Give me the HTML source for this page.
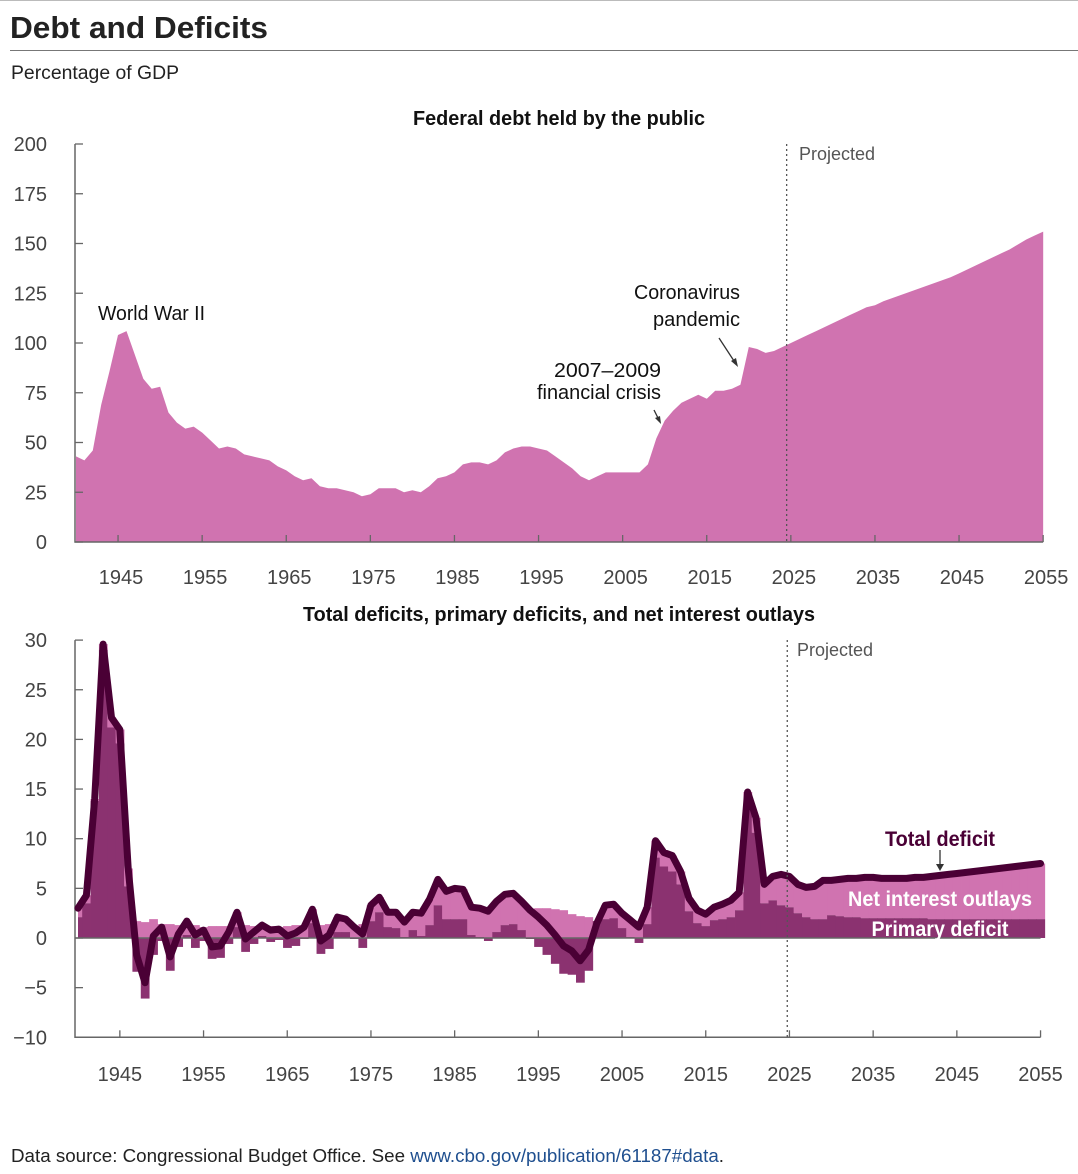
<!DOCTYPE html>
<html><head><meta charset="utf-8">
<style>
html,body{margin:0;padding:0;background:#fff;}
svg{display:block;font-family:"Liberation Sans",sans-serif;}
</style></head>
<body>
<svg id="chart" width="1078" height="1174" viewBox="0 0 1078 1174">
<line x1="0" y1="0.5" x2="1078" y2="0.5" stroke="#bbb"/>
<text x="10" y="38" font-size="31" font-weight="bold" fill="#222" textLength="258" lengthAdjust="spacingAndGlyphs">Debt and Deficits</text>
<line x1="10" y1="50.5" x2="1078" y2="50.5" stroke="#777"/>
<text x="11" y="79" font-size="19" fill="#222" textLength="168" lengthAdjust="spacingAndGlyphs">Percentage of GDP</text>

<text x="559" y="125" font-size="20" font-weight="bold" fill="#111" text-anchor="middle" textLength="292" lengthAdjust="spacingAndGlyphs">Federal debt held by the public</text>
<g id="topG"></g>
<text x="559" y="621" font-size="20" font-weight="bold" fill="#111" text-anchor="middle" textLength="512" lengthAdjust="spacingAndGlyphs">Total deficits, primary deficits, and net interest outlays</text>
<g id="botG"></g>

<text x="98" y="320" font-size="20" fill="#111" textLength="107" lengthAdjust="spacingAndGlyphs">World War II</text>
<text x="740" y="299" font-size="20" fill="#111" text-anchor="end" textLength="106" lengthAdjust="spacingAndGlyphs">Coronavirus</text>
<text x="740" y="326" font-size="20" fill="#111" text-anchor="end" textLength="87" lengthAdjust="spacingAndGlyphs">pandemic</text>
<line x1="719" y1="338" x2="736" y2="364" stroke="#333" stroke-width="1.3"/>
<path d="M738,367 L731,361 L736,358 Z" fill="#333"/>
<text x="661" y="377" font-size="20" fill="#111" text-anchor="end" textLength="107" lengthAdjust="spacingAndGlyphs">2007–2009</text>
<text x="661" y="399" font-size="20" fill="#111" text-anchor="end" textLength="124" lengthAdjust="spacingAndGlyphs">financial crisis</text>
<line x1="654" y1="410" x2="659" y2="420" stroke="#333" stroke-width="1.3"/>
<path d="M661,424 L655,418 L660,416 Z" fill="#333"/>

<text x="940" y="846" font-size="21" font-weight="bold" fill="#4a0035" text-anchor="middle" textLength="110" lengthAdjust="spacingAndGlyphs">Total deficit</text>
<line x1="940" y1="850" x2="940" y2="866" stroke="#333" stroke-width="1.3"/>
<path d="M940,871 L936,864 L944,864 Z" fill="#333"/>
<text x="940" y="906" font-size="21" font-weight="bold" fill="#fff" text-anchor="middle" textLength="184" lengthAdjust="spacingAndGlyphs">Net interest outlays</text>
<text x="940" y="936" font-size="21" font-weight="bold" fill="#fff" text-anchor="middle" textLength="137" lengthAdjust="spacingAndGlyphs">Primary deficit</text>

<text x="11" y="1162" font-size="18" fill="#222" textLength="713" lengthAdjust="spacingAndGlyphs">Data source: Congressional Budget Office. See <tspan fill="#1f4f8f">www.cbo.gov/publication/61187#data</tspan>.</text>
</svg>
<script>
var years=[];for(var yy=1940;yy<=2055;yy++)years.push(yy);
var debt=[43,41,46,69,86,104,106,94,82,77,78,65,60,57,58,55,51,47,48,47,44,43,42,41,38,36,33,31,32,28,27,27,26,25,23,24,27,27,27,25,26,25,28,32,33,35,39,40,40,39,41,45,47,48,48,47,46,43,40,37,33,31,33,35,35,35,35,35,39,52,61,66,70,72,74,72,76,76,77,79,98,97,95,96,98,100,102,104,106,108,110,112,114,116,118,119,121,122.5,124,125.5,127,128.5,130,131.5,133,135,137,139,141,143,145,147,149.5,152,154,156];
var totalDeficit=[3.0,4.3,14,29.6,22.2,21,7,-1.7,-4.5,0.2,1.1,-1.9,0.4,1.7,0.3,0.8,-0.9,-0.8,0.6,2.6,-0.1,0.6,1.3,0.8,0.9,0.2,0.5,1.1,2.9,-0.3,0.3,2.1,1.9,1.1,0.4,3.3,4.1,2.6,2.6,1.6,2.6,2.5,3.9,5.9,4.7,5.0,4.9,3.1,3.0,2.7,3.7,4.4,4.5,3.7,2.8,2.1,1.3,0.3,-0.8,-1.3,-2.3,-1.2,1.5,3.3,3.4,2.5,1.8,1.1,3.1,9.8,8.6,8.3,6.7,4.0,2.8,2.4,3.1,3.4,3.8,4.6,14.7,12.1,5.4,6.2,6.4,6.2,5.4,5.1,5.2,5.8,5.8,5.9,6.0,6.0,6.1,6.1,6.0,6.0,6.0,6.0,6.1,6.1,6.2,6.3,6.4,6.5,6.6,6.7,6.8,6.9,7.0,7.1,7.2,7.3,7.4,7.5];
var primaryDeficit=[2.1,3.5,13.8,29,21.2,19.6,5.2,-3.4,-6.1,-1.7,-0.3,-3.3,-0.9,0.3,-1.0,-0.3,-2.1,-2.0,-0.6,1.1,-1.4,-0.6,0.2,-0.4,-0.2,-1.0,-0.8,-0.1,1.5,-1.6,-1.1,0.6,0.6,-0.1,-1.0,1.7,2.6,1.1,1.0,0.1,0.8,0.2,1.3,3.3,1.9,1.9,1.9,0.3,0.1,-0.3,0.6,1.3,1.4,0.8,-0.1,-0.9,-1.7,-2.6,-3.6,-3.7,-4.5,-3.3,1.7,1.9,2.0,1.0,0.1,-0.5,1.4,8.1,7.2,6.7,5.4,2.7,1.5,1.2,1.8,1.9,2.1,2.8,13.2,10.6,3.5,3.8,3.3,3.1,2.5,2.1,1.9,1.9,2.3,2.2,2.1,2.1,2.0,2.0,2.0,2.0,2.0,2.0,2.0,2.0,1.9,1.9,1.9,1.9,1.9,1.9,1.9,1.9,1.9,1.9,1.9,1.9,1.9,1.9];
var xTicks=[1945,1955,1965,1975,1985,1995,2005,2015,2025,2035,2045,2055];
var topYTicks=[0,25,50,75,100,125,150,175,200];
var botYTicks=[-10,-5,0,5,10,15,20,25,30];
var projStart=2024.5;

var NS='http://www.w3.org/2000/svg';
function mk(parent,tag,attrs){var e=document.createElementNS(NS,tag);for(var k in attrs)e.setAttribute(k,attrs[k]);parent.appendChild(e);return e;}
var AXC='#666',TC='#444',LIGHT='#d073b0',DARK='#8b3270',LINE='#4a0035';

var topG=document.getElementById('topG');
function xT(v){return 76+(v-1940)*8.41;}
function yT(v){return 542-v*1.99;}
var d='M'+xT(1940)+','+yT(0);
for(var i=0;i<years.length;i++)d+=' L'+xT(years[i]).toFixed(1)+','+yT(debt[i]).toFixed(1);
d+=' L'+xT(2055)+','+yT(0)+' Z';
var area=mk(topG,'path',{d:d,fill:LIGHT});


var ax=mk(topG,'path',{d:'M'+(xT(1940)-1)+','+yT(200)+' L'+(xT(1940)-1)+','+yT(0)+' L'+xT(2055)+','+yT(0),fill:'none',stroke:AXC,'stroke-width':1.5});


topYTicks.forEach(function(t){
  mk(topG,'line',{x1:xT(1940)-1,x2:xT(1940)+7,y1:yT(t),y2:yT(t),stroke:AXC,'stroke-width':1.3});
  var tx=mk(topG,'text',{x:47,y:yT(t)+7,'font-size':20,fill:TC,'text-anchor':'end'});tx.textContent=t;
  
  
});
xTicks.forEach(function(t){
  mk(topG,'line',{x1:xT(t),x2:xT(t),y1:yT(0),y2:yT(0)-7,stroke:AXC,'stroke-width':1.3});
  var tx=mk(topG,'text',{x:xT(t)+3,y:584,'font-size':20,fill:TC,'text-anchor':'middle'});tx.textContent=t;
  
  
});
var pl=mk(topG,'line',{x1:xT(projStart),x2:xT(projStart),y1:144,y2:542,stroke:'#555','stroke-width':1.3,'stroke-dasharray':'2,3'});


var pt=mk(topG,'text',{x:799,y:160,'font-size':18,fill:'#555'});pt.textContent='Projected';



var botG=document.getElementById('botG');
function xB(v){return 78+(v-1940)*8.37;}
function yB(v){return 938-v*9.93;}
for(var i=0;i<years.length;i++){
  var p=primaryDeficit[i],t=totalDeficit[i],ni=t-p;
  var x0=xB(years[i]-0.5),w=8.37+0.4;
  if(i===0)x0=xB(1940);
  var lo,hi;
  if(p>=0){lo=p;hi=t;}else{lo=0;hi=ni;}
  var r1=mk(botG,'rect',{x:x0,y:yB(Math.max(lo,hi)),width:w,height:Math.abs(hi-lo)*9.93,fill:LIGHT});
  
  
  var r2=mk(botG,'rect',{x:x0,y:yB(Math.max(p,0)),width:w,height:Math.abs(p)*9.93,fill:DARK});
  
  
}
var bax=mk(botG,'path',{d:'M'+(xB(1940)-3)+','+yB(30)+' L'+(xB(1940)-3)+','+yB(-10)+' L'+xB(2055)+','+yB(-10),fill:'none',stroke:AXC,'stroke-width':1.5});


var zl=mk(botG,'line',{x1:xB(1940)-3,x2:xB(2055),y1:yB(0),y2:yB(0),stroke:'#666','stroke-width':1.5});


botYTicks.forEach(function(t){
  mk(botG,'line',{x1:xB(1940)-3,x2:xB(1940)+5,y1:yB(t),y2:yB(t),stroke:AXC,'stroke-width':1.3});
  var tx=mk(botG,'text',{x:47,y:yB(t)+7,'font-size':20,fill:TC,'text-anchor':'end'});tx.textContent=(t<0?'\u2212'+(-t):t);
  
  
});
xTicks.forEach(function(t){
  mk(botG,'line',{x1:xB(t),x2:xB(t),y1:yB(-10),y2:yB(-10)-7,stroke:AXC,'stroke-width':1.3});
  var tx=mk(botG,'text',{x:xB(t),y:1081,'font-size':20,fill:TC,'text-anchor':'middle'});tx.textContent=t;
  
  
});
var ld='';
for(var i=0;i<years.length;i++)ld+=(i?' L':'M')+xB(years[i]).toFixed(1)+','+yB(totalDeficit[i]).toFixed(1);
var ln=mk(botG,'path',{d:ld,fill:'none',stroke:LINE,'stroke-width':7,'stroke-linejoin':'round','stroke-linecap':'round'});


var pl2=mk(botG,'line',{x1:xB(projStart)+2,x2:xB(projStart)+2,y1:640,y2:1037,stroke:'#555','stroke-width':1.3,'stroke-dasharray':'2,3'});


var pt2=mk(botG,'text',{x:797,y:656,'font-size':18,fill:'#555'});pt2.textContent='Projected';


</script>
</body></html>
